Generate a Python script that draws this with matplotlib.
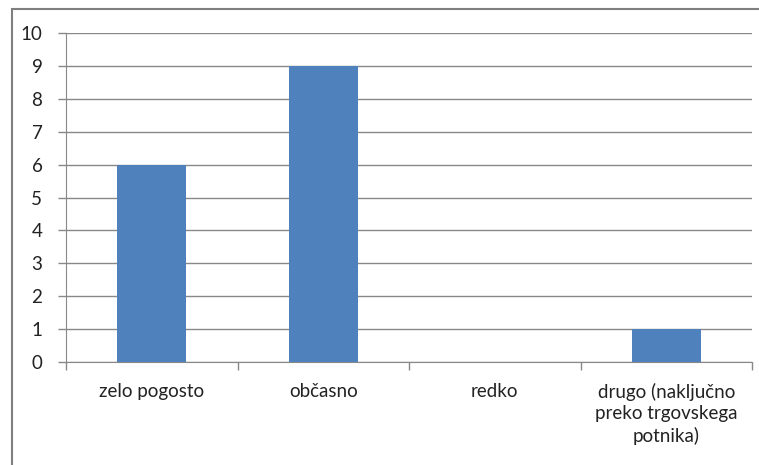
import matplotlib.pyplot as plt
from matplotlib.patches import Rectangle

kategorije = ["zelo pogosto", "občasno", "redko",
              "drugo (naključno\npreko trgovskega\npotnika)"]
vrednosti = [6, 9, 0, 1]

W, H = 759, 465
plt.rcParams['font.family'] = ['Lato', 'DejaVu Sans']

fig = plt.figure(figsize=(W / 100, H / 100), dpi=100)
# plot area in pixels: left 66, right 752, top 33, bottom 362
ax = fig.add_axes([66 / W, 1 - 362 / H, (752 - 66) / W, (362 - 33) / H])

siva = "#888888"
x = range(len(kategorije))
ax.bar(x, vrednosti, width=0.4, color="#4f81bd", zorder=3)

ax.set_xlim(-0.5, len(kategorije) - 0.5)
ax.set_ylim(0, 10)
ax.set_yticks(range(0, 11))
ax.yaxis.grid(True, color=siva, linewidth=1)
ax.set_axisbelow(True)

ax.set_xticks([i - 0.5 for i in range(len(kategorije) + 1)])
ax.set_xticklabels([])
ax.set_xticks(list(x), minor=True)
ax.set_xticklabels(kategorije, minor=True, fontsize=13.5, linespacing=1.32,
                   va="top")
ax.tick_params(axis="x", which="minor", length=0, pad=15, colors="#222222")
ax.tick_params(axis="x", which="major", length=6, color=siva, width=1)
ax.tick_params(axis="y", length=6, color=siva, width=1, pad=11,
               labelsize=13.5, labelcolor="#222222")

for s in ["top", "right"]:
    ax.spines[s].set_visible(False)
for s in ["left", "bottom"]:
    ax.spines[s].set_color(siva)

# okvir grafikona
fig.patches.append(Rectangle((12 / W, -0.1), 1.0, 1 - 9 / H + 0.1,
                             transform=fig.transFigure, fill=False,
                             edgecolor="#7f7f7f", linewidth=1.5))

fig.savefig("out.png", dpi=100)
